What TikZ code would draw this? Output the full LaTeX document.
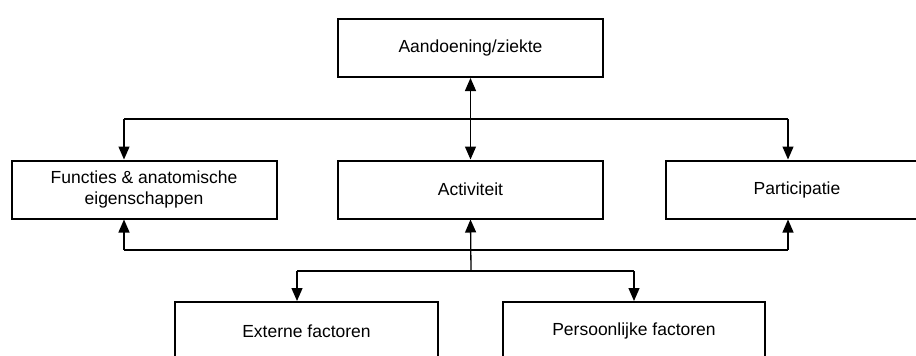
\documentclass[tikz,border=0pt]{standalone}
\usepackage{fontspec}
\setmainfont{Liberation Sans}
\usetikzlibrary{arrows.meta}
\begin{document}
\begin{tikzpicture}[x=1pt,y=-1pt,
  box/.style={draw,line width=2pt,inner sep=0pt,align=center,
    font=\fontsize{17.5}{21}\selectfont,minimum width=265pt,minimum height=58pt},
  wire/.style={line width=1.3pt},
  conn/.style={wire,-{Triangle[length=13pt,width=11pt]}},
  bothconn/.style={wire,{Triangle[length=13pt,width=11pt]}-{Triangle[length=13pt,width=11pt]}}]
\useasboundingbox (0,0) rectangle (916,356);
\clip (0,0) rectangle (916,356);
\node[box] (A) at (470.5,48) {Aandoening/ziekte};
\node[box] (F) at (144,189.5) {Functies \& anatomische\\eigenschappen};
\node[box] (Act) at (470.5,189.5) {Activiteit};
\node[box,minimum width=262pt] (P) at (797,189.5) {Participatie};
\node[box,minimum width=263pt] (E) at (306.5,331) {Externe factoren};
\node[box,minimum width=262pt] (Pf) at (634,331) {Persoonlijke factoren};
\coordinate (tl) at (124,119);
\coordinate (tr) at (788,119);
\coordinate (bl) at (124,250);
\coordinate (br) at (788,250);
\coordinate (sm) at (471,271);
\coordinate (sl) at (297,271);
\coordinate (sr) at (634,271);
\draw[wire] (tl) -- (tr);
\draw[conn] (tl) -- (tl |- F.north);
\draw[conn] (tr) -- (tr |- P.north);
\draw[bothconn] (A.south) -- (Act.north);
\draw[wire] (bl) -- (br);
\draw[conn] (bl) -- (bl |- F.south);
\draw[conn] (br) -- (br |- P.south);
\draw[conn] (sm) -- (Act.south);
\draw[wire] (sl) -- (sr);
\draw[conn] (sl) -- (sl |- E.north);
\draw[conn] (sr) -- (sr |- Pf.north);
\end{tikzpicture}
\end{document}
